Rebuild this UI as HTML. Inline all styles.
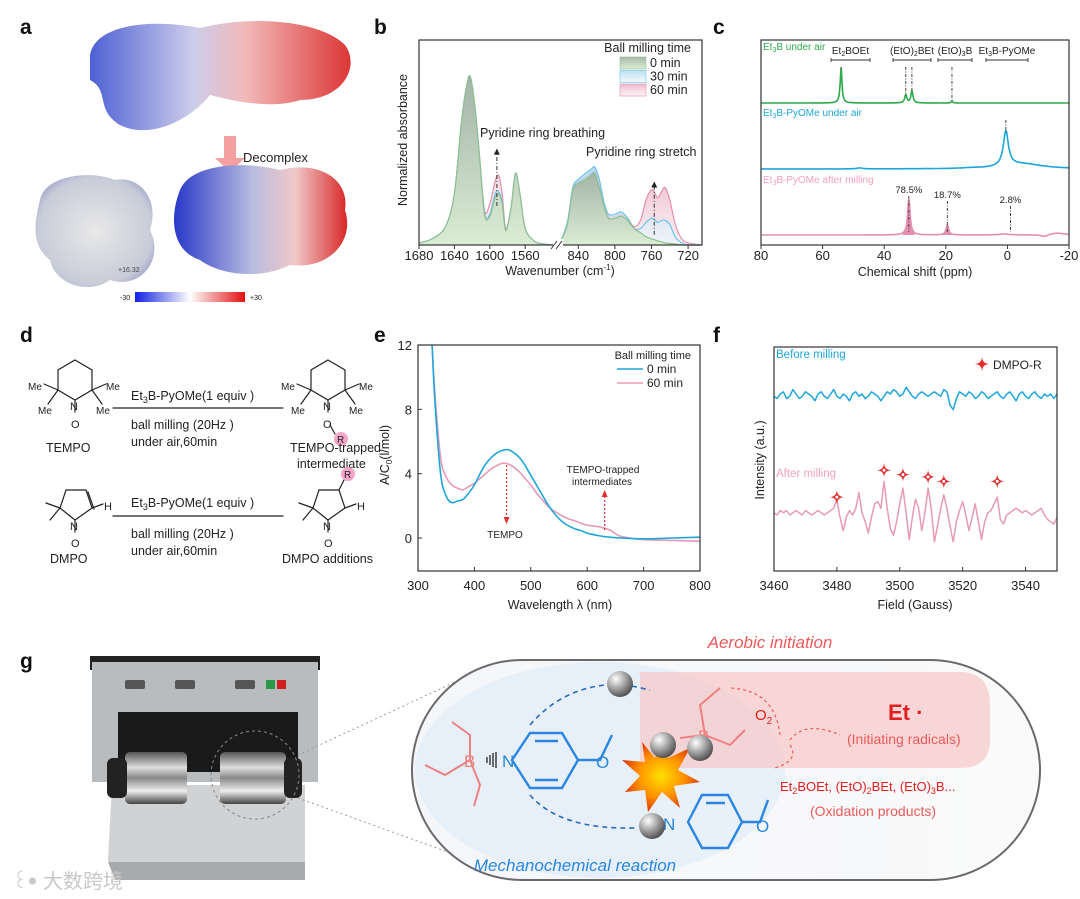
<!DOCTYPE html>
<html><head><meta charset="utf-8"><style>
html,body{margin:0;padding:0;background:#fff;}
svg{display:block;font-family:"Liberation Sans","Noto Sans CJK SC",sans-serif;}
</style></head><body>
<svg id="fig" width="1080" height="899" viewBox="0 0 1080 899" xmlns="http://www.w3.org/2000/svg">
<defs>
<linearGradient id="blobA" x1="0" x2="1" y1="0" y2="0"><stop offset="0" stop-color="#3a4fd0"/><stop offset="0.4" stop-color="#c8c8e8"/><stop offset="0.6" stop-color="#f0b0b0"/><stop offset="1" stop-color="#d82020"/></linearGradient>
<linearGradient id="blobC" x1="0" x2="1"><stop offset="0" stop-color="#2838c8"/><stop offset="0.45" stop-color="#b8bce0"/><stop offset="0.7" stop-color="#f0c8c8"/><stop offset="1" stop-color="#d82828"/></linearGradient>
<radialGradient id="blobB" cx="0.5" cy="0.5" r="0.6"><stop offset="0" stop-color="#e8e8e8"/><stop offset="0.8" stop-color="#c8ccd8"/><stop offset="1" stop-color="#9aa0c8"/></radialGradient>
<linearGradient id="cbar" x1="0" x2="1"><stop offset="0" stop-color="#1020e0"/><stop offset="0.5" stop-color="#ffffff"/><stop offset="1" stop-color="#e01010"/></linearGradient>
<linearGradient id="gfill" x1="0" x2="0" y1="0" y2="1"><stop offset="0" stop-color="#a0b0a0" stop-opacity="0.9"/><stop offset="1" stop-color="#d8ecd0" stop-opacity="0.9"/></linearGradient>
<linearGradient id="pfill" x1="0" x2="0" y1="0" y2="1"><stop offset="0" stop-color="#e8a8c0" stop-opacity="0.8"/><stop offset="1" stop-color="#fbe8ef" stop-opacity="0.6"/></linearGradient>
<linearGradient id="bfill" x1="0" x2="0" y1="0" y2="1"><stop offset="0" stop-color="#a8d8f0" stop-opacity="0.8"/><stop offset="1" stop-color="#e8f6fc" stop-opacity="0.6"/></linearGradient>
<linearGradient id="metal" x1="0" x2="0" y1="0" y2="1"><stop offset="0" stop-color="#555"/><stop offset="0.3" stop-color="#ddd"/><stop offset="0.5" stop-color="#888"/><stop offset="0.75" stop-color="#eee"/><stop offset="1" stop-color="#444"/></linearGradient>
<radialGradient id="ball" cx="0.35" cy="0.3" r="0.7"><stop offset="0" stop-color="#fff"/><stop offset="0.5" stop-color="#aaa"/><stop offset="1" stop-color="#555"/></radialGradient>
<radialGradient id="boom" cx="0.5" cy="0.5" r="0.5"><stop offset="0" stop-color="#ffe000"/><stop offset="0.6" stop-color="#ff9000"/><stop offset="1" stop-color="#e04000"/></radialGradient>
<linearGradient id="caps" x1="0" x2="1"><stop offset="0" stop-color="#f4f6f9"/><stop offset="1" stop-color="#fafafa"/></linearGradient>
</defs>

<g id="chartB"></g>
<g id="chartC"></g>
<g id="chartE"></g>
<g id="chartF"></g>

<g font-weight="bold" font-size="21" fill="#111">
<text x="20" y="34">a</text>
<text x="374" y="34">b</text>
<text x="713" y="34">c</text>
<text x="20" y="342">d</text>
<text x="374" y="342">e</text>
<text x="713" y="342">f</text>
<text x="20" y="668">g</text>
</g>

<g>
<path d="M90,55 C95,25 150,18 200,28 C250,15 320,20 345,45 C360,65 345,100 300,100 C270,110 230,100 210,95 C190,120 150,140 120,125 C95,110 110,90 90,80 Z" fill="url(#blobA)" opacity="0.9"/>
<polygon points="224,136 236,136 236,158 245,158 230,172 215,158 224,158" fill="#f4a0a0"/>
<text x="243" y="162" font-size="13" fill="#222">Decomplex</text>
<path d="M40,200 C45,175 90,170 115,180 C140,175 160,200 150,230 C165,260 140,290 110,280 C90,295 55,285 50,260 C30,245 35,220 40,200 Z" fill="url(#blobB)"/>
<text x="118" y="272" font-size="7" fill="#444">+16.32</text>
<path d="M180,190 C190,165 240,160 280,170 C320,160 350,180 345,210 C355,240 330,270 290,265 C260,280 220,275 200,260 C170,250 170,215 180,190 Z" fill="url(#blobC)"/>
<rect x="135" y="292" width="110" height="10" fill="url(#cbar)"/>
<text x="120" y="300" font-size="7" fill="#222">-30</text>
<text x="250" y="300" font-size="7" fill="#222">+30</text>
</g>

<g font-size="12.5" fill="#222" stroke-linecap="round">
<g stroke="#222" stroke-width="1.2" fill="none">
<path d="M75,360 L92,370 L92,390 L75,400 L58,390 L58,370 Z"/><path d="M75,400 L75,412"/>
<path d="M58,390 L44,384 M58,390 L48,404 M92,390 L106,384 M92,390 L102,404"/>
</g>
<text x="70" y="410" font-size="11">N</text>
<text x="28" y="390" font-size="10">Me</text><text x="38" y="414" font-size="10">Me</text>
<text x="106" y="390" font-size="10">Me</text><text x="96" y="414" font-size="10">Me</text>
<text x="71" y="428" font-size="11">O</text>
<text x="46" y="452">TEMPO</text>
<line x1="113" y1="408" x2="283" y2="408" stroke="#222" stroke-width="1.2"/>
<text x="131" y="400">Et<tspan font-size="9" dy="3">3</tspan><tspan dy="-3">B-PyOMe(1 equiv )</tspan></text>
<text x="131" y="429">ball milling (20Hz )</text>
<text x="131" y="446">under air,60min</text>
<g stroke="#222" stroke-width="1.2" fill="none">
<path d="M328,360 L345,370 L345,390 L328,400 L311,390 L311,370 Z"/><path d="M328,400 L328,412 M330,425 L335,434"/>
<path d="M311,390 L297,384 M311,390 L301,404 M345,390 L359,384 M345,390 L355,404"/>
</g>
<text x="323" y="410" font-size="11">N</text>
<text x="281" y="390" font-size="10">Me</text><text x="291" y="414" font-size="10">Me</text>
<text x="359" y="390" font-size="10">Me</text><text x="349" y="414" font-size="10">Me</text>
<text x="323" y="428" font-size="11">O</text>
<circle cx="341" cy="439" r="7" fill="#f4a6c8"/><text x="337" y="443" font-size="10">R</text>
<text x="290" y="452">TEMPO-trapped</text>
<text x="297" y="468">intermediate</text>
<g stroke="#222" stroke-width="1.2" fill="none">
<path d="M75,520 L60,508 L66,490 L86,490 L92,508 Z"/><path d="M88,492 L94,509"/><path d="M75,520 L75,532"/>
<path d="M60,508 L46,503 M60,508 L50,520 M92,508 L103,504"/>
</g>
<text x="70" y="530" font-size="11">N</text>
<text x="104" y="510" font-size="11">H</text>
<text x="71" y="547" font-size="11">O</text>
<text x="50" y="563">DMPO</text>
<line x1="113" y1="516" x2="283" y2="516" stroke="#222" stroke-width="1.2"/>
<text x="131" y="507">Et<tspan font-size="9" dy="3">3</tspan><tspan dy="-3">B-PyOMe(1 equiv )</tspan></text>
<text x="131" y="538">ball milling (20Hz )</text>
<text x="131" y="555">under air,60min</text>
<g stroke="#222" stroke-width="1.2" fill="none">
<path d="M328,520 L313,508 L319,490 L339,490 L345,508 Z"/><path d="M328,520 L328,532"/>
<path d="M313,508 L299,503 M313,508 L303,520 M345,508 L356,504 M339,490 L344,480"/>
</g>
<text x="323" y="530" font-size="11">N</text>
<text x="357" y="510" font-size="11">H</text>
<text x="324" y="547" font-size="11">O</text>
<circle cx="348" cy="474" r="7" fill="#f4a6c8"/><text x="344" y="478" font-size="10">R</text>
<text x="282" y="563">DMPO additions</text>
</g>

<g>
<rect x="90" y="656" width="230" height="14" fill="#222"/>
<rect x="92" y="662" width="226" height="120" fill="#b9bcbf"/>
<rect x="118" y="712" width="180" height="60" fill="#1a1a1a"/>
<g fill="#555"><rect x="125" y="680" width="20" height="9" rx="2"/><rect x="175" y="680" width="20" height="9" rx="2"/><rect x="235" y="680" width="20" height="9" rx="2"/><rect x="266" y="680" width="9" height="9" fill="#2a9a4a"/><rect x="277" y="680" width="9" height="9" fill="#d02020"/></g>
<path d="M112,785 L305,785 L305,800 L305,880 L115,880 L108,860 Z" fill="#d0d2d4"/>
<path d="M108,862 L305,862 L305,880 L115,880 Z" fill="#a8aaac"/>
<rect x="125" y="752" width="62" height="52" rx="5" fill="url(#metal)"/>
<rect x="107" y="758" width="20" height="40" rx="6" fill="#222"/>
<rect x="220" y="752" width="66" height="52" rx="5" fill="url(#metal)"/>
<rect x="284" y="758" width="18" height="40" rx="6" fill="#222"/>
<circle cx="255" cy="775" r="44" fill="none" stroke="#888" stroke-dasharray="3,3"/>
<line x1="298" y1="755" x2="455" y2="682" stroke="#999" stroke-dasharray="2,3"/>
<line x1="298" y1="798" x2="470" y2="860" stroke="#999" stroke-dasharray="2,3"/>
</g>
<g fill="#c8c8c8" font-size="20"><text x="12" y="888">꒰ꔷ 大数跨境</text></g>

<g>
<rect x="412" y="660" width="628" height="220" rx="110" fill="url(#caps)" stroke="#6a6a6a" stroke-width="2"/>
<ellipse cx="600" cy="770" rx="185" ry="108" fill="#e6eef8" opacity="0.9"/>
<path d="M640,672 L960,672 Q990,672 990,705 L990,740 Q990,768 960,768 L640,768 Z" fill="#f8c8c8" opacity="0.7"/>
<text x="770" y="648" font-size="17" font-style="italic" fill="#ec5a5a" text-anchor="middle">Aerobic initiation</text>
<text x="575" y="871" font-size="17" font-style="italic" fill="#2a86e0" text-anchor="middle">Mechanochemical reaction</text>
<text x="888" y="720" font-size="22" font-weight="bold" fill="#e02020">Et ·</text>
<text x="847" y="744" font-size="14" fill="#ec5a5a">(Initiating radicals)</text>
<text x="780" y="791" font-size="13" fill="#e02020">Et<tspan font-size="9" dy="3">2</tspan><tspan dy="-3">BOEt, (EtO)</tspan><tspan font-size="9" dy="3">2</tspan><tspan dy="-3">BEt, (EtO)</tspan><tspan font-size="9" dy="3">3</tspan><tspan dy="-3">B...</tspan></text>
<text x="810" y="816" font-size="14" fill="#ec5a5a">(Oxidation products)</text>
<g stroke="#f08080" stroke-width="2" fill="none"><path d="M470,760 L445,775 L425,765 M470,760 L470,735 L452,722 M470,760 L480,785 L474,806"/></g>
<text x="464" y="767" font-size="17" fill="#f08080">B</text>
<g stroke="#222" stroke-width="1.3"><path d="M484,760 v0 M487,757 v6 M490,755 v10 M493,753 v14 M496,752 v16"/></g>
<g stroke="#2a86e0" stroke-width="2.4" fill="none"><path d="M512,760 L530,733 L562,733 L578,760 L562,788 L530,788 Z M535,741 L558,741 M535,780 L558,780 M578,760 L600,760 L612,735"/></g>
<text x="502" y="767" font-size="17" fill="#2a86e0">N</text>
<text x="596" y="768" font-size="17" fill="#2a86e0">O</text>
<g stroke="#2a86e0" stroke-width="2.4" fill="none"><path d="M688,822 L702,795 L728,795 L742,822 L728,848 L702,848 Z M706,803 L725,803 M742,822 L760,822 L768,800"/></g>
<text x="663" y="830" font-size="17" fill="#2a86e0">N</text>
<text x="756" y="832" font-size="17" fill="#2a86e0">O</text>
<g stroke="#f08080" stroke-width="2" fill="none"><path d="M705,735 L700,705 L720,688 M705,735 L730,745 L745,730 M705,735 L680,738"/></g>
<text x="698" y="742" font-size="17" fill="#f08080">B</text>
<text x="755" y="720" font-size="15" fill="#e02020">O<tspan font-size="10" dy="4">2</tspan></text>
<polygon points="660,740 668,758 690,748 678,770 700,782 674,786 680,808 662,792 648,812 645,790 625,792 640,776 622,760 645,762 642,742 655,758" fill="url(#boom)"/>
<g><circle cx="620" cy="684" r="13" fill="url(#ball)"/><circle cx="663" cy="745" r="13" fill="url(#ball)"/><circle cx="700" cy="748" r="13" fill="url(#ball)"/><circle cx="652" cy="826" r="13" fill="url(#ball)"/></g>
<g stroke="#2a6abf" stroke-width="1.6" fill="none" stroke-dasharray="5,4"><path d="M530,725 Q560,690 605,685"/><path d="M530,795 Q560,830 636,828"/><path d="M632,686 L650,690"/></g>
<g stroke="#ec5a5a" stroke-width="1.2" fill="none" stroke-dasharray="3,3"><path d="M780,735 Q775,690 730,688"/><path d="M790,740 Q805,720 840,735"/><path d="M790,745 Q800,760 775,768"/></g>
</g>
</svg>

<script>
const NS='http://www.w3.org/2000/svg';
function add(parent,tag,attrs,text){const e=document.createElementNS(NS,tag);for(const k in attrs)e.setAttribute(k,attrs[k]);if(text!==undefined)e.textContent=text;parent.appendChild(e);return e;}
function smooth(pts){let d='M'+pts[0][0].toFixed(1)+','+pts[0][1].toFixed(1);for(let i=0;i<pts.length-1;i++){const p0=pts[Math.max(0,i-1)],p1=pts[i],p2=pts[i+1],p3=pts[Math.min(pts.length-1,i+2)];const c1=[p1[0]+(p2[0]-p0[0])/6,p1[1]+(p2[1]-p0[1])/6],c2=[p2[0]-(p3[0]-p1[0])/6,p2[1]-(p3[1]-p1[1])/6];d+='C'+c1[0].toFixed(1)+','+c1[1].toFixed(1)+' '+c2[0].toFixed(1)+','+c2[1].toFixed(1)+' '+p2[0].toFixed(1)+','+p2[1].toFixed(1);}return d;}
function poly(pts){return 'M'+pts.map(p=>p[0].toFixed(1)+','+p[1].toFixed(1)).join('L');}
function star(x,y,r){return `M${x},${y-r}Q${x},${y} ${x+r},${y}Q${x},${y} ${x},${y+r}Q${x},${y} ${x-r},${y}Q${x},${y} ${x},${y-r}Z`;}

/* panel b data */
const bWaveLeft=[1680,1665,1650,1640,1632,1626,1622,1617,1612,1606,1600,1594,1590,1586,1582,1576,1571,1566,1560,1550,1540,1525];
const bGreenLeft=[0.01,0.03,0.09,0.25,0.6,0.78,0.82,0.68,0.45,0.15,0.14,0.23,0.25,0.2,0.07,0.18,0.35,0.25,0.08,0.02,0.005,0];
const bBlueLeft=[0.01,0.03,0.09,0.25,0.6,0.78,0.82,0.68,0.45,0.16,0.15,0.25,0.26,0.21,0.07,0.18,0.35,0.25,0.08,0.02,0.005,0];
const bPinkLeft=[0.01,0.03,0.09,0.25,0.6,0.78,0.82,0.68,0.45,0.17,0.2,0.31,0.34,0.25,0.08,0.18,0.35,0.25,0.08,0.02,0.005,0];
const bWaveRight=[860,852,846,840,832,826,822,817,812,807,800,795,792,786,779,772,766,760,756,753,749,745,740,734,727,720,705];
const bGreenRight=[0.01,0.1,0.27,0.3,0.32,0.34,0.35,0.28,0.19,0.13,0.13,0.14,0.14,0.12,0.08,0.06,0.04,0.03,0.025,0.02,0.015,0.01,0.008,0.005,0,0,0];
const bBlueRight=[0.01,0.11,0.28,0.32,0.35,0.37,0.38,0.32,0.21,0.15,0.15,0.16,0.16,0.13,0.08,0.08,0.11,0.13,0.12,0.11,0.12,0.12,0.1,0.04,0.01,0,0];
const bPinkRight=[0.01,0.1,0.27,0.31,0.33,0.35,0.36,0.3,0.2,0.14,0.14,0.15,0.15,0.13,0.09,0.12,0.22,0.27,0.25,0.23,0.26,0.28,0.22,0.1,0.03,0.01,0];
const bTicks=[1680,1640,1600,1560,840,800,760,720];
const bLegend=['0 min','30 min','60 min'];

/* panel c data */
const cGreenCenters=[54,33,31,18], cGreenHeights=[35,8,12,2], cGreenWidths=[0.35,0.4,0.4,0.3];
const cBlueCenters=[0.5,-5,48,12], cBlueHeights=[35,5,1,0.5], cBlueWidths=[1.0,8,1,3];
const cPinkCenters=[32,19.5,1,-16,-12], cPinkHeights=[36,10,1,2,-2], cPinkWidths=[0.5,0.5,2,3,1.5];
const cOffsets=[142,76,10];
const cTicks=[80,60,40,20,0,-20];
const cPercents=['78.5%','18.7%','2.8%'];
const cPercentPpm=[32,19.5,-1];

/* panel e data */
const eWave=[325,330,340,350,360,370,380,390,400,410,420,430,440,450,460,470,480,490,500,510,520,530,540,550,560,570,580,590,600,620,640,660,700,750,800];
const eBlue=[12,8.5,4,2.6,2.2,2.3,2.4,2.8,3.3,4.0,4.6,5.0,5.3,5.45,5.5,5.3,5.0,4.5,3.9,3.3,2.7,2.1,1.6,1.2,0.9,0.7,0.55,0.45,0.3,0.15,0.05,0,-0.05,0,0.05];
const ePink=[12,9,5,3.8,3.3,3.1,3.0,3.2,3.4,3.7,4.0,4.3,4.5,4.65,4.6,4.4,4.1,3.7,3.3,2.8,2.4,2.0,1.7,1.5,1.3,1.15,1.05,0.9,0.8,0.7,0.5,0.1,-0.1,-0.15,-0.2];
const eXTicks=[300,400,500,600,700,800];
const eYTicks=[0,4,8,12];

/* panel f data */
const fFieldStart=3460;
const fBlue=[78,77,79,80,77,78,81,79,77,78,80,79,78,76,79,80,78,77,79,81,78,77,79,78,76,79,80,78,79,77,78,80,79,78,76,78,80,79,81,80,78,79,82,80,78,77,79,80,79,78,79,80,79,78,81,80,74,72,77,80,79,78,80,79,77,78,80,79,77,78,79,80,78,77,79,80,78,76,79,80,78,77,79,80,78,77,79,78,79,77,79];
const fPink=[26,25,27,26,27,25,26,27,26,25,27,26,25,26,27,26,25,26,27,28,32,24,18,24,27,25,28,35,26,22,17,24,30,31,28,40,28,19,16,22,30,37,26,14,24,32,28,18,26,37,28,13,20,28,34,28,20,13,22,27,31,25,18,24,30,22,14,22,26,27,30,33,23,21,25,26,27,28,27,26,27,26,25,26,27,28,25,23,22,21,24];
const fStarFields=[3480,3495,3501,3509,3514,3531];
const fStarLevels=[33,45,43,42,40,40];
const fTicks=[3460,3480,3500,3520,3540];

function frame(g,x0,y0,x1,y1){const r=add(g,'rect',{x:x0,y:y0,width:x1-x0,height:y1-y0,fill:'none',stroke:'#333','stroke-width':1.2});

}

/* panel b */
(function(){
const g=document.getElementById('chartB');
const X0=419,X1=702,Y0=40,Y1=245;
const bx=w=> w>1000 ? 419+(1680-w)*0.885 : 560+(860-w)*0.915;
const by=v=> Y1-v*205;
const series=[[bGreenLeft,bGreenRight,'url(#gfill)','#8fbf8f'],[bBlueLeft,bBlueRight,'url(#bfill)','#6cc4ec'],[bPinkLeft,bPinkRight,'url(#pfill)','#e58fb0']];
[2,1,0].forEach(si=>{const s=series[si];
 [[bWaveLeft,s[0]],[bWaveRight,s[1]]].forEach(([ws,vs],k)=>{
  const pts=ws.map((w,i)=>[bx(w),by(vs[i])]);
  const d=smooth(pts);
  const f=add(g,'path',{d:d+`L${pts[pts.length-1][0]},${Y1}L${pts[0][0]},${Y1}Z`,fill:s[2],stroke:'none'});
  
  
  const l=add(g,'path',{d:d,fill:'none',stroke:s[3],'stroke-width':1.2});
  
  
 });
});
frame(g,X0,Y0,X1,Y1);
const brk=add(g,'rect',{x:553,y:Y1-6,width:10,height:12,fill:'#fff'});


const bm=add(g,'path',{d:'M551,249 L557,241 M556,249 L562,241',stroke:'#333','stroke-width':1});


bTicks.forEach(t=>{const x=bx(t);
 const tk=add(g,'line',{x1:x,x2:x,y1:Y1,y2:Y1+4,stroke:'#333'});
 
 
 const tl=add(g,'text',{x:x,y:Y1+15,'font-size':13,'text-anchor':'middle',fill:'#222'},String(t));
 
 
});
const xt=add(g,'text',{x:560,y:275,'font-size':12.5,'text-anchor':'middle',fill:'#222'});


xt.innerHTML='Wavenumber (cm<tspan font-size="8" dy="-5">-1</tspan><tspan dy="5">)</tspan>';
const yt=add(g,'text',{x:0,y:0,'font-size':12.5,'text-anchor':'middle',fill:'#222',transform:'translate(407,140) rotate(-90)'},'Normalized absorbance');


const lt=add(g,'text',{x:691,y:52,'font-size':12.5,'text-anchor':'end',fill:'#222'},'Ball milling time');


bLegend.forEach((n,i)=>{const s=series[i];
 const r=add(g,'rect',{x:620,y:57+i*13.5,width:26,height:12,fill:s[2],stroke:s[3],'stroke-width':0.6});
 
 
 const t=add(g,'text',{x:650,y:67+i*13.5,'font-size':12.5,fill:'#222'},n);
 
 
});
const a1=add(g,'text',{x:480,y:137,'font-size':12.5,fill:'#222'},'Pyridine ring breathing');


const a2=add(g,'text',{x:586,y:156,'font-size':12.5,fill:'#222'},'Pyridine ring stretch');


[[bx(1592),by(0.19),by(0.47)],[bx(757),by(0.05),by(0.31)]].forEach(([x,ya,yb])=>{
 const l=add(g,'path',{d:`M${x},${ya}L${x},${yb+5}`,stroke:'#333','stroke-dasharray':'4,2,1,2','stroke-width':1});
 
 
 const h=add(g,'path',{d:`M${x-3},${yb+6}L${x},${yb}L${x+3},${yb+6}Z`,fill:'#222'});
 
 
});
})();

/* panel c */
(function(){
const g=document.getElementById('chartC');
const X0=761,X1=1069,Y0=40,Y1=245;
const cx=p=> X0+(80-p)*3.08;
const cy=v=> Y1-v;
const sets=[[cGreenCenters,cGreenHeights,cGreenWidths,'#2daa4a','nmr-et3b-under-air'],[cBlueCenters,cBlueHeights,cBlueWidths,'#1ea6dc','nmr-et3b-pyome-under-air'],[cPinkCenters,cPinkHeights,cPinkWidths,'#e58fb0','nmr-after-milling']];
function val(s,si,p){let v=cOffsets[si];s[0].forEach((c,i)=>{v+=s[1][i]/(1+Math.pow((p-c)/s[2][i],2));});return v;}
sets.forEach((s,si)=>{
 const pts=[];
 for(let p=80;p>=-20.001;p-=0.1){pts.push([cx(p),cy(val(s,si,p))]);}
 if(si===2){
  [0,1].forEach(i=>{const fp=[];for(let p=s[0][i]+2;p>=s[0][i]-2;p-=0.1){fp.push([cx(p),cy(val(s,si,p))]);}
   const f=add(g,'path',{d:poly(fp)+`L${fp[fp.length-1][0]},${cy(cOffsets[si])}L${fp[0][0]},${cy(cOffsets[si])}Z`,fill:'#e58fb0'});
   
   
  });
 }
 const l=add(g,'path',{d:poly(pts),fill:'none',stroke:s[3],'stroke-width':1.6});
 
 
});
frame(g,X0,Y0,X1,Y1);
cTicks.forEach(t=>{const x=cx(t);
 const tk=add(g,'line',{x1:x,x2:x,y1:Y1,y2:Y1+4,stroke:'#333'});
 
 
 const tl=add(g,'text',{x:x,y:Y1+15,'font-size':13,'text-anchor':'middle',fill:'#222'},String(t));
 
 
});
const xt=add(g,'text',{x:915,y:276,'font-size':12.5,'text-anchor':'middle',fill:'#222'},'Chemical shift (ppm)');


const labs=[['Et<tspan font-size="7" dy="2">3</tspan><tspan dy="-2">B  under air</tspan>',50,'#2daa4a','trace-label-et3b'],['Et<tspan font-size="7" dy="2">3</tspan><tspan dy="-2">B-PyOMe under air</tspan>',116,'#1ea6dc','trace-label-complex'],['Et<tspan font-size="7" dy="2">3</tspan><tspan dy="-2">B-PyOMe after milling</tspan>',183,'#f2a0c0','trace-label-milled']];
labs.forEach(l=>{const t=add(g,'text',{x:763,y:l[1],'font-size':10,fill:l[2]});t.innerHTML=l[0];
 
 });
const brs=[['Et<tspan font-size="7" dy="2">2</tspan><tspan dy="-2">BOEt</tspan>',831,870],['(EtO)<tspan font-size="7" dy="2">2</tspan><tspan dy="-2">BEt</tspan>',893,931],['(EtO)<tspan font-size="7" dy="2">3</tspan><tspan dy="-2">B</tspan>',938,972],['Et<tspan font-size="7" dy="2">3</tspan><tspan dy="-2">B-PyOMe</tspan>',986,1028]];
brs.forEach(b=>{const t=add(g,'text',{x:(b[1]+b[2])/2,y:54,'font-size':10,'text-anchor':'middle',fill:'#222'});t.innerHTML=b[0];
 
 
 const p=add(g,'path',{d:`M${b[1]},58v4M${b[1]},60H${b[2]}M${b[2]},58v4`,stroke:'#333',fill:'none','stroke-width':0.9});
 
 });
[[54,62,104-35],[33,62,104-8],[31,62,104-12],[18,62,104-2],[0.5,115,170-36]].forEach(d=>{
 const p=add(g,'line',{x1:cx(d[0]),x2:cx(d[0]),y1:d[1]+5,y2:d[2],stroke:'#333','stroke-dasharray':'3,1.5,1,1.5','stroke-width':0.9});
 
 });
cPercents.forEach((pc,i)=>{const x=cx(cPercentPpm[i]);const yy=[193,198,203][i];
 const t=add(g,'text',{x:x,y:yy,'font-size':9.5,'text-anchor':'middle',fill:'#222'},pc);
 
 
 const p=add(g,'line',{x1:x,x2:x,y1:yy+3,y2:232,stroke:'#333','stroke-dasharray':'3,1.5,1,1.5','stroke-width':0.9});
 
 });
})();

/* panel e */
(function(){
const g=document.getElementById('chartE');
const X0=418,X1=700,Y0=345,Y1=571;
const ex=w=> X0+(w-300)*0.564;
const ey=v=> 538-v*16.08;
[[ePink,'#e79ab8','uvvis-60-min'],[eBlue,'#1ea6dc','uvvis-0-min']].forEach(s=>{
 const l=add(g,'path',{d:smooth(eWave.map((w,i)=>[ex(w),ey(s[0][i])])),fill:'none',stroke:s[1],'stroke-width':1.6});
 
 });
const cover=add(g,'rect',{x:X0,y:300,width:X1-X0,height:Y0-300,fill:'#fff'});


frame(g,X0,Y0,X1,Y1);
eXTicks.forEach(t=>{const x=ex(t);
 const tk=add(g,'line',{x1:x,x2:x,y1:Y1,y2:Y1-4,stroke:'#333'});
 
 
 const tl=add(g,'text',{x:x,y:Y1+19,'font-size':13,'text-anchor':'middle',fill:'#222'},String(t));
 
 });
eYTicks.forEach(t=>{const y=ey(t);
 const tk=add(g,'line',{x1:X0,x2:X0+4,y1:y,y2:y,stroke:'#333'});
 
 
 const tl=add(g,'text',{x:X0-6,y:y+5,'font-size':13,'text-anchor':'end',fill:'#222'},String(t));
 
 });
const xt=add(g,'text',{x:560,y:609,'font-size':12.5,'text-anchor':'middle',fill:'#222'},'Wavelength λ (nm)');


const yt=add(g,'text',{x:0,y:0,'font-size':12.5,'text-anchor':'middle',fill:'#222',transform:'translate(389,455) rotate(-90)'});
yt.innerHTML='A/C<tspan font-size="8" dy="3">0</tspan><tspan dy="-3">(l/mol)</tspan>';


const lt=add(g,'text',{x:691,y:359,'font-size':11,'text-anchor':'end',fill:'#222'},'Ball milling time');


[['0 min','#1ea6dc'],['60 min','#e79ab8']].forEach((s,i)=>{
 const l=add(g,'line',{x1:617,x2:643,y1:369+i*14,y2:369+i*14,stroke:s[1],'stroke-width':1.5});
 
 
 const t=add(g,'text',{x:647,y:373+i*14,'font-size':12,fill:'#222'},s[0]);
 
 });
const ta=add(g,'text',{x:505,y:538,'font-size':10,'text-anchor':'middle',fill:'#222'},'TEMPO');


const tb=add(g,'text',{x:603,y:473,'font-size':10,'text-anchor':'middle',fill:'#222'},'TEMPO-trapped');


const tc=add(g,'text',{x:602,y:485,'font-size':10,'text-anchor':'middle',fill:'#222'},'intermediates');


[[ex(457),465,522,1],[ex(631),530,492,-1]].forEach(a=>{
 const l=add(g,'line',{x1:a[0],x2:a[0],y1:a[1],y2:a[2],stroke:'#e03030','stroke-dasharray':'2,2','stroke-width':1.2});
 
 
 const h=add(g,'path',{d:`M${a[0]-3},${a[2]-5*a[3]}L${a[0]},${a[2]+2*a[3]}L${a[0]+3},${a[2]-5*a[3]}Z`,fill:'#e03030'});
 
 });
})();

/* panel f */
(function(){
const g=document.getElementById('chartF');
const X0=774,X1=1057,Y0=347,Y1=571;
const fx=b=> X0+(b-3460)*(X1-X0)/90;
const fy=v=> Y1-v*2.24;
[[fBlue,'#1ea6dc','epr-before-milling'],[fPink,'#e79ab8','epr-after-milling']].forEach(s=>{
 const l=add(g,'path',{d:poly(s[0].map((v,i)=>[fx(fFieldStart+i),fy(v)])),fill:'none',stroke:s[1],'stroke-width':1.5,'stroke-linejoin':'round'});
 
 });
frame(g,X0,Y0,X1,Y1);
fTicks.forEach(t=>{const x=fx(t);
 const tk=add(g,'line',{x1:x,x2:x,y1:Y1,y2:Y1-4,stroke:'#333'});
 
 
 const tl=add(g,'text',{x:x,y:Y1+19,'font-size':13,'text-anchor':'middle',fill:'#222'},String(t));
 
 });
fStarFields.forEach((b,i)=>{
 const s=add(g,'path',{d:star(fx(b),fy(fStarLevels[i]),8),fill:'#e23030'});
 
 
 const c=add(g,'circle',{cx:fx(b),cy:fy(fStarLevels[i]),r:1.5,fill:'#fff'});
 
 });
const ls=add(g,'path',{d:star(982,364,8),fill:'#e23030'});


const lt=add(g,'text',{x:993,y:369,'font-size':12,fill:'#222'},'DMPO-R');


const b1=add(g,'text',{x:776,y:358,'font-size':11.5,fill:'#1ea6dc'},'Before milling');


const b2=add(g,'text',{x:776,y:477,'font-size':11.5,fill:'#f2a0c0'},'After milling');


const xt=add(g,'text',{x:915,y:609,'font-size':12.5,'text-anchor':'middle',fill:'#222'},'Field (Gauss)');


const yt=add(g,'text',{x:0,y:0,'font-size':12.5,'text-anchor':'middle',fill:'#222',transform:'translate(764,460) rotate(-90)'},'Intensity (a.u.)');


})();
</script>
</body></html>
